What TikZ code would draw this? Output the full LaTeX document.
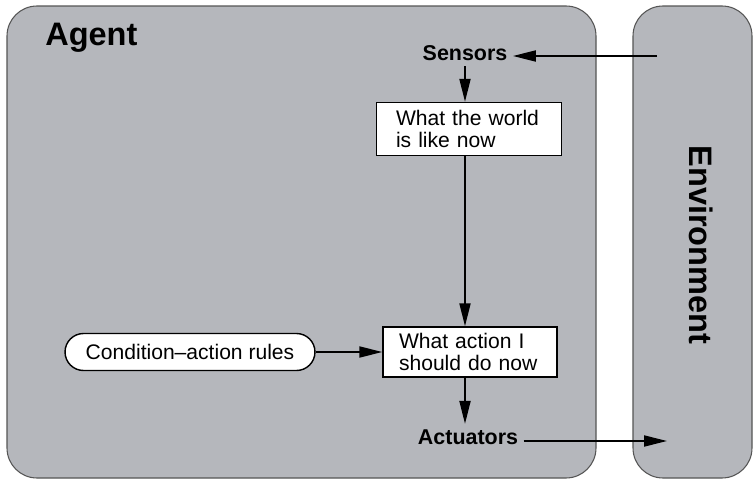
\documentclass[tikz,border=0pt]{standalone}
\usepackage{fontspec}
\setmainfont{Liberation Sans}
\usepackage{xcolor}
\usetikzlibrary{arrows.meta}
\definecolor{panelgray}{RGB}{181,183,188}
\definecolor{edgegray}{RGB}{85,85,85}

\begin{document}
\begin{tikzpicture}[x=0.02cm,y=0.02cm,
  arr/.style={line width=1.1pt,-{Triangle[length=0.46cm,width=0.22cm]}},
  panel/.style={draw=edgegray,fill=panelgray,line width=0.6pt,rounded corners=0.6cm},
  textbox/.style={draw=black,fill=white,line width=0.8pt,align=left,font=\fontsize{12}{12.5}\selectfont},
  pill/.style={draw=black,fill=white,line width=0.8pt,rounded corners=0.37cm,minimum height=0.74cm,minimum width=5cm,font=\fontsize{12}{14}\selectfont},
  port/.style={font=\fontsize{12.2}{14}\selectfont\bfseries,inner sep=3pt},
  title/.style={font=\fontsize{18.5}{20}\selectfont\bfseries,inner sep=0pt}]
\useasboundingbox (0,0) rectangle (755,-480);
% the two panels
\draw [panel] (7,-6) rectangle (596,-478);
\draw [panel] (633,-6) rectangle (752,-478);
\node [title,anchor=base west] (agent) at (45,-46) {Agent};
\node [title,rotate=-90] (env) at (701,-245) {Environment};
% inside the agent
\node [port] (sensors) at (465,-53) {Sensors};
\node [textbox,inner xsep=0.39cm,text width=2.92cm,minimum height=1.06cm] (world) at (469,-129) {What the world\\is like now};
\node [textbox,inner xsep=0.32cm,text width=2.84cm,minimum height=1cm] (action) at (470,-352) {What action I\\should do now};
\node [pill] (rules) at (190,-352) {Condition–action rules};
\node [port] (act) at (468,-437) {Actuators};
\coordinate (envin) at (657,-56);
\coordinate (envout) at (667,-441);
% connectors
\draw [arr] (envin) -- (envin -| sensors.east);
\draw [arr] (sensors.south) -- (sensors |- world.north);
\draw [arr] (world.south -| sensors) -- (action.north -| sensors);
\draw [arr] (rules.east) -- (action.west);
\draw [arr] (action.south -| sensors) -- (act.north -| sensors);
\draw [arr] (act.east |- envout) -- (envout);
\end{tikzpicture}
\end{document}
